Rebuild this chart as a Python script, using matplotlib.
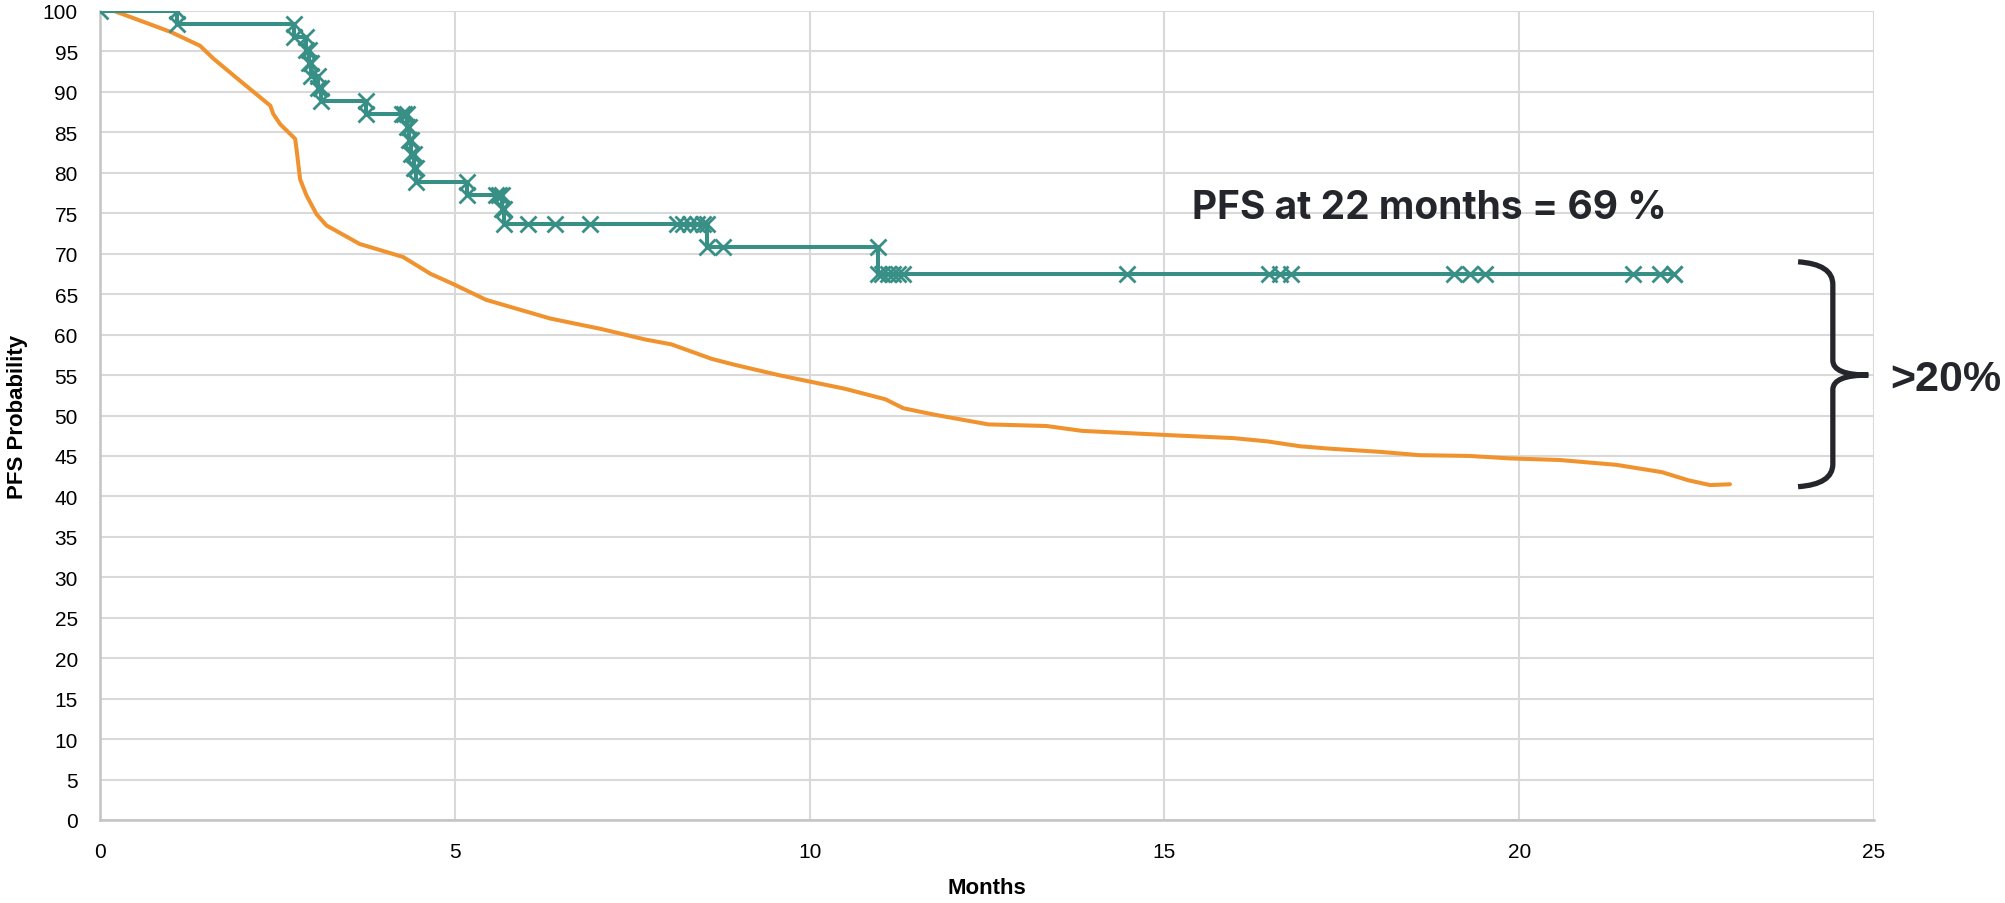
import numpy as np
import matplotlib.pyplot as plt
from matplotlib.path import Path
from matplotlib.patches import PathPatch

# Kaplan-Meier estimate, treated arm: time of each drop and PFS after it
event_months = [1.08, 2.73, 2.90, 2.94, 2.98, 3.07, 3.12, 3.75, 4.32, 4.35,
                4.38, 4.42, 4.45, 5.17, 5.66, 5.70, 8.55, 10.96]
event_pfs = [98.4, 96.8, 95.2, 93.6, 92.0, 90.5, 88.9, 87.3, 85.6, 84.0,
             82.3, 80.6, 78.9, 77.2, 75.5, 73.7, 70.8, 67.5]

# censored patients (months)
censor_months = [4.25, 4.28, 5.58, 5.62, 6.03, 6.41, 6.90, 8.13, 8.22, 8.31,
                 8.41, 8.50, 8.78, 11.02, 11.10, 11.18, 11.25, 11.32, 14.47,
                 16.47, 16.63, 16.78, 19.08, 19.31, 19.52, 21.60, 21.98, 22.18]

# comparator curve
ref_months = [0.0, 0.2, 1.0, 1.41, 1.6, 1.97, 2.4, 2.44, 2.54, 2.75, 2.77,
              2.82, 2.91, 3.05, 3.19, 3.66, 4.27, 4.66, 4.99, 5.44, 6.34,
              7.06, 7.68, 8.05, 8.62, 8.93, 9.56, 10.0, 10.5, 11.07, 11.32,
              11.76, 12.52, 13.34, 13.84, 15.0, 15.98, 16.45, 16.91, 17.33,
              18.05, 18.59, 19.3, 19.86, 20.57, 21.37, 22.01, 22.38, 22.69,
              22.97]
ref_pfs = [100.0, 100.0, 97.4, 95.7, 94.1, 91.4, 88.3, 87.3, 86.0, 84.2, 82.9,
           79.2, 77.2, 74.9, 73.5, 71.2, 69.6, 67.5, 66.2, 64.3, 62.0,
           60.7, 59.4, 58.8, 57.0, 56.3, 55.0, 54.2, 53.3, 52.0, 50.9,
           50.1, 48.9, 48.7, 48.1, 47.6, 47.2, 46.8, 46.2, 45.9,
           45.5, 45.1, 45.0, 44.7, 44.5, 43.9, 43.0, 42.0, 41.4,
           41.5]

teal = '#378f86'
orange = '#f0922e'
ink = '#25262b'

# step vertices of the KM curve
xs, ys = [0.0], [100.0]
prev = 100.0
for t, s in zip(event_months, event_pfs):
    xs += [t, t]
    ys += [prev, s]
    prev = s
xs.append(max(censor_months))
ys.append(prev)

ev = np.array(event_months)
pv = np.array([100.0] + event_pfs)
censor_pfs = pv[np.searchsorted(ev, censor_months, side='right')]

plt.rcParams['font.family'] = ['Liberation Sans', 'DejaVu Sans']

fig = plt.figure(figsize=(20.05, 9.04), dpi=100)
ax = fig.add_axes([100 / 2005, 83 / 904, 1774 / 2005, 809 / 904])

ax.plot(ref_months, ref_pfs, color=orange, lw=2.9, solid_joinstyle='round',
        solid_capstyle='round', zorder=3)
ax.plot(xs, ys, color=teal, lw=2.9, marker='x', ms=11, mew=2.0, zorder=4)
ax.plot(censor_months, censor_pfs, ls='none', color=teal, marker='x', ms=11,
        mew=2.0, zorder=4)

ax.set_xlim(0, 25)
ax.set_ylim(0, 100)
ax.set_xticks(np.arange(0, 26, 5))
ax.set_yticks(np.arange(0, 101, 5))
ax.grid(True, color='#d9d9d9', lw=1.5)
ax.set_axisbelow(True)
for side in ['top', 'right']:
    ax.spines[side].set_visible(False)
for side in ['left', 'bottom']:
    ax.spines[side].set_color('#c4c4c4')
    ax.spines[side].set_linewidth(1.8)
ax.tick_params(axis='both', length=0, labelsize=15, colors='black')
ax.tick_params(axis='y', pad=16)
ax.tick_params(axis='x', pad=16)

ax.set_xlabel('Months', fontsize=16, fontweight='bold')
ax.set_ylabel('PFS Probability', fontsize=16, fontweight='bold')
ax.xaxis.set_label_coords(0.5, -0.0705)
ax.yaxis.set_label_coords(-0.0405, 0.5)

ax.text(15.39, 75.65, 'PFS at 22 months = 69 %', fontsize=28,
        fontweight='bold', family='Inter', color=ink, ha='left', va='center')

# curly brace spanning the gap between the two curves
xa, xv, xt = 23.93, 24.42, 24.92
ytop, ybot, ymid = 69.0, 41.2, 55.0
verts = [(xa, ytop), (xv, ytop - 0.3), (xv, ytop - 2.8),
         (xv, ymid + 1.8), (xv, ymid), (xt, ymid),
         (xt, ymid), (xv, ymid), (xv, ymid - 1.8),
         (xv, ybot + 2.8), (xv, ybot + 0.3), (xa, ybot)]
codes = [Path.MOVETO, Path.CURVE3, Path.CURVE3,
         Path.LINETO, Path.CURVE3, Path.CURVE3,
         Path.MOVETO, Path.CURVE3, Path.CURVE3,
         Path.LINETO, Path.CURVE3, Path.CURVE3]
brace = PathPatch(Path(verts, codes), fill=False, edgecolor=ink, lw=3.8,
                  capstyle='butt', joinstyle='round', clip_on=False, zorder=5)
ax.add_patch(brace)
ax.text(25.23, 54.5, '>20%', fontsize=31, fontweight='bold', color=ink,
        ha='left', va='center', clip_on=False)

fig.savefig('out.png', dpi=100)
